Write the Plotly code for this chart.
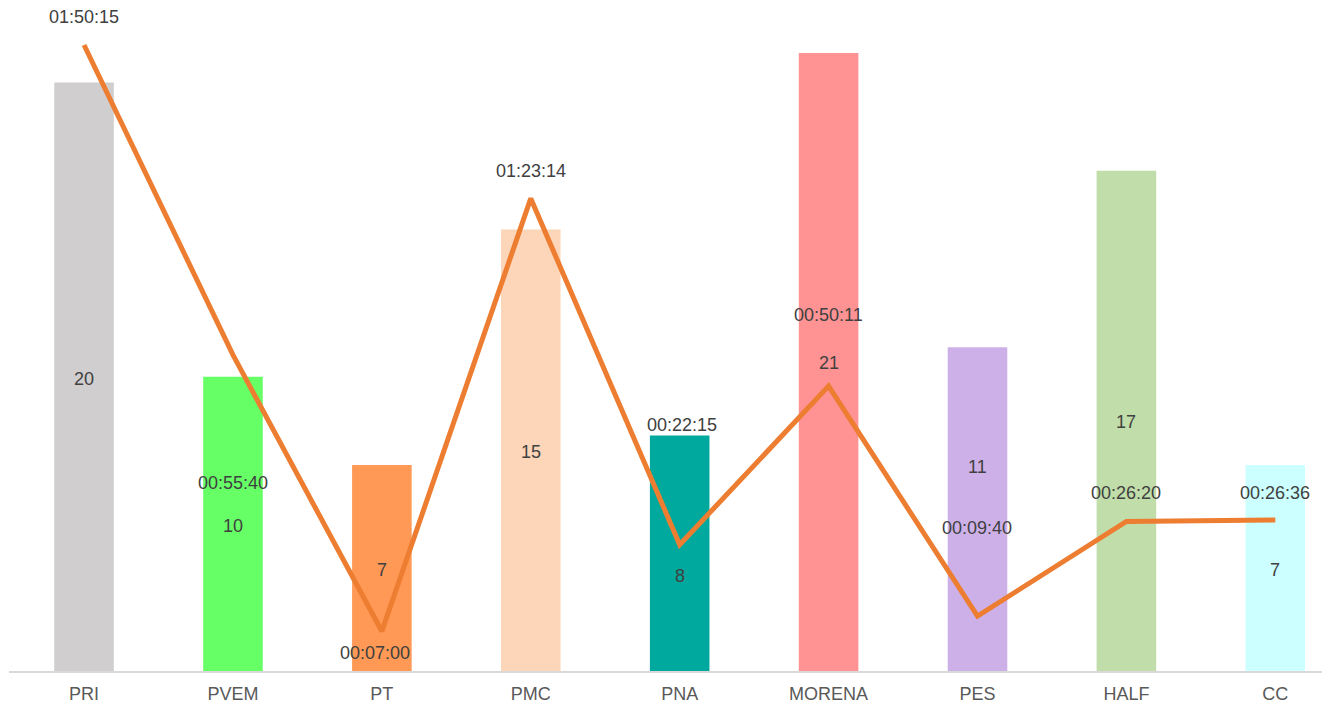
import plotly.graph_objects as go

categories = ["PRI", "PVEM", "PT", "PMC", "PNA", "MORENA", "PES", "HALF", "CC"]
counts = [20, 10, 7, 15, 8, 21, 11, 17, 7]
durations = ["01:50:15", "00:55:40", "00:07:00", "01:23:14", "00:22:15",
             "00:50:11", "00:09:40", "00:26:20", "00:26:36"]
bar_colors = ["#D0CECE", "#66FF66", "#FF9955", "#FDD5B8", "#00A99D",
              "#FF9393", "#CDB0E8", "#C0DDAA", "#CCFFFF"]
line_label_shift = [28, -128, -22, 27, 120, 71, 88, 28, 27]
line_label_xshift = [0, 0, -7, 0, 2, 0, 0, 0, 0]
bar_label_shift = [-2, -2, -2, -2, -23, -1, 42, -1, -2]


def to_sec(t):
    h, m, s = (int(p) for p in t.split(":"))
    return h * 3600 + m * 60 + s


seconds = [to_sec(t) for t in durations]

FONT = dict(family="Liberation Sans, Arial", size=18, color="#404040")
PLOT_H = 663
fig = go.Figure()
fig.add_trace(go.Bar(
    x=categories, y=counts, marker=dict(color=bar_colors, line=dict(width=0)),
    width=0.4, hoverinfo="x+y", showlegend=False,
))
fig.add_trace(go.Scatter(
    x=categories, y=seconds, yaxis="y2", mode="lines",
    line=dict(color="#ED7D31", width=5), showlegend=False,
    text=durations, hoverinfo="x+text",
))

for c, n, sh in zip(categories, counts, bar_label_shift):
    fig.add_annotation(x=c, y=n / 2, yref="y", text=str(n), showarrow=False,
                       yshift=sh, font=FONT)

for c, s, d, sh, xs in zip(categories, seconds, durations, line_label_shift, line_label_xshift):
    fig.add_annotation(x=c, y=s, yref="y2", text=d, showarrow=False,
                       yshift=sh, xshift=xs, font=FONT)

fig.update_layout(
    width=1330, height=706,
    margin=dict(l=1, r=0, t=0, b=706 - PLOT_H),
    paper_bgcolor="white", plot_bgcolor="white",
    xaxis=dict(range=[-0.504, 8.421], showgrid=False, showline=True,
               linecolor="#D9D9D9", linewidth=2, ticks="", ticklabelstandoff=5,
               tickfont=dict(family="Liberation Sans, Arial", size=18, color="#595959")),
    yaxis=dict(range=[0, PLOT_H / 29.43], visible=False, showgrid=False),
    yaxis2=dict(range=[0, PLOT_H / 0.09463], overlaying="y", visible=False, showgrid=False),
)

fig.write_html("out.html")
